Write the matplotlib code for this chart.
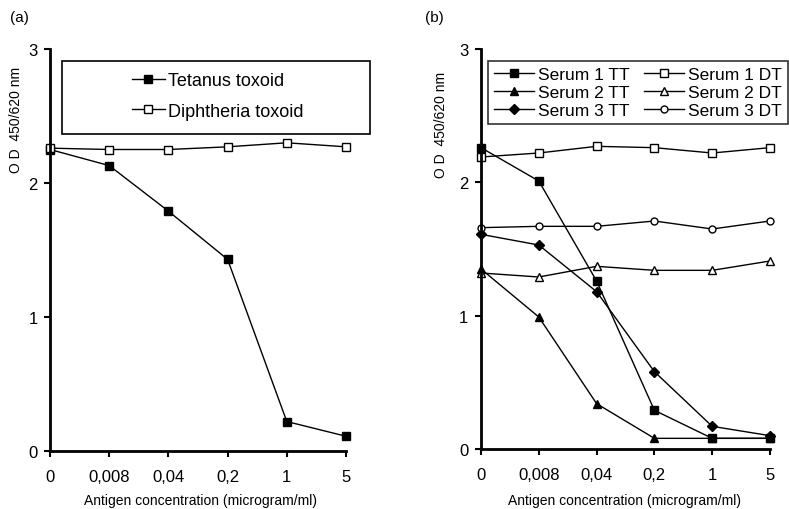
import numpy as np
import matplotlib
matplotlib.use("Agg")
import matplotlib.pyplot as plt
from matplotlib.patches import Rectangle

plt.rcParams['font.family'] = ['Liberation Sans', 'DejaVu Sans']

# antigen concentrations (categorical x axis)
conc_labels = ["0", "0,008", "0,04", "0,2", "1", "5"]

# panel (a): pooled serum
tetanus = [2.25, 2.13, 1.79, 1.43, 0.22, 0.11]
diphtheria = [2.26, 2.25, 2.25, 2.27, 2.30, 2.27]

# panel (b): individual sera
serum1_tt = [2.26, 2.01, 1.26, 0.29, 0.08, 0.08]
serum2_tt = [1.35, 0.99, 0.34, 0.08, 0.08, 0.08]
serum3_tt = [1.61, 1.53, 1.18, 0.58, 0.17, 0.10]
serum1_dt = [2.19, 2.22, 2.27, 2.26, 2.22, 2.26]
serum2_dt = [1.32, 1.29, 1.37, 1.34, 1.34, 1.41]
serum3_dt = [1.66, 1.67, 1.67, 1.71, 1.65, 1.71]

W, H = 789, 510
fig = plt.figure(figsize=(W / 100, H / 100), dpi=100)


def px_axes(x0, x1, y_top, y_bot):
  return fig.add_axes([x0 / W, 1 - y_bot / H, (x1 - x0) / W, (y_bot - y_top) / H])


def style_axes(ax):
  x = np.arange(len(conc_labels))
  ax.set_xlim(0, 5)
  ax.set_ylim(0, 3)
  ax.set_xticks(x)
  ax.set_xticklabels(conc_labels, fontsize=12)
  ax.set_yticks([0, 1, 2, 3])
  ax.set_yticklabels(["0", "1", "2", "3"], fontsize=12)
  for s in ["top", "right"]:
    ax.spines[s].set_visible(False)
  for s in ["left", "bottom"]:
    ax.spines[s].set_linewidth(2.0)
  ax.tick_params(direction="out", length=4, width=1.5, pad=9)
  ax.tick_params(axis="y", pad=5)
  ax.set_facecolor("none")


line_kw = dict(color="black", lw=1.0, clip_on=False)
x = np.arange(len(conc_labels))

# (a)
ax1 = px_axes(50, 346, 50, 452)
style_axes(ax1)
h1, = ax1.plot(x, tetanus, marker="s", ms=6, mfc="black", mec="black",
               label="Tetanus toxoid", **line_kw)
h2, = ax1.plot(x, diphtheria, marker="s", ms=5.5, mfc="white", mec="black",
               mew=1.0, label="Diphtheria toxoid", **line_kw)
fig.text(10 / W, 1 - 18 / H, "(a)", fontsize=11, va="center")
fig.text(16 / W, 1 - 120 / H, "O D  450/620 nm", rotation=90, fontsize=10,
         ha="center", va="center")
fig.text(200 / W, 1 - 501 / H, "Antigen concentration (microgram/ml)",
         fontsize=10, ha="center", va="center")
fig.patches.append(Rectangle((62 / W, 1 - 135 / H), 308 / W, 73 / H,
                             transform=fig.transFigure, fill=False,
                             ec="black", lw=1.2))
fig.legend(handles=[h1, h2], loc="center", bbox_to_anchor=(218 / W, 1 - 97 / H),
           frameon=False, fontsize=13, handlelength=1.8, handletextpad=0.2,
           labelspacing=0.75)

# (b)
ax2 = px_axes(481, 770, 50, 450)
style_axes(ax2)
hb = []
hb.append(ax2.plot(x, serum1_tt, marker="s", ms=6, mfc="black", mec="black",
                   label="Serum 1 TT", **line_kw)[0])
hb.append(ax2.plot(x, serum2_tt, marker="^", ms=6, mfc="black", mec="black",
                   label="Serum 2 TT", **line_kw)[0])
hb.append(ax2.plot(x, serum3_tt, marker="D", ms=5, mfc="black", mec="black",
                   label="Serum 3 TT", **line_kw)[0])
hb.append(ax2.plot(x, serum1_dt, marker="s", ms=5.5, mfc="white", mec="black",
                   mew=1.0, label="Serum 1 DT", **line_kw)[0])
hb.append(ax2.plot(x, serum2_dt, marker="^", ms=6, mfc="white", mec="black",
                   mew=1.0, label="Serum 2 DT", **line_kw)[0])
hb.append(ax2.plot(x, serum3_dt, marker="o", ms=5, mfc="white", mec="black",
                   mew=1.0, label="Serum 3 DT", **line_kw)[0])
fig.text(425 / W, 1 - 18 / H, "(b)", fontsize=11, va="center")
fig.text(441 / W, 1 - 125 / H, "O D  450/620 nm", rotation=90, fontsize=10,
         ha="center", va="center")
fig.text(625 / W, 1 - 501 / H, "Antigen concentration (microgram/ml)",
         fontsize=10, ha="center", va="center")
leg = fig.legend(handles=hb, loc="upper left", ncol=2,
                 bbox_to_anchor=(488 / W, 1 - 62 / H), fontsize=12.5,
                 frameon=True, fancybox=False, edgecolor="black",
                 handlelength=2.3, handletextpad=0.25, labelspacing=0.15,
                 columnspacing=0.8, borderpad=0.35, borderaxespad=0)
leg.get_frame().set_linewidth(1.2)

fig.savefig("out.png", dpi=100)
